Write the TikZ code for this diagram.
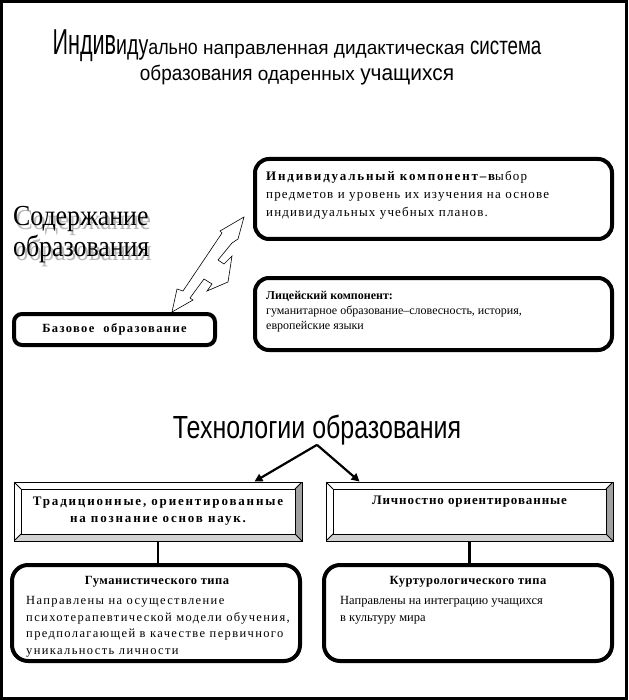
\documentclass[tikz,border=0pt]{standalone}
\usepackage{fontspec}
\usepackage{graphicx}
\setmainfont{Liberation Serif}
\newfontfamily\titlesans{Liberation Sans}
\newfontfamily\artserif{Liberation Serif}
\usetikzlibrary{arrows.meta}
\definecolor{bevelgrey}{RGB}{160,160,160}
\definecolor{bevellight}{RGB}{210,210,210}
\definecolor{shadowgrey}{RGB}{185,185,185}
\newcommand\wart[3]{\scalebox{#2}[1]{\fontsize{#1}{#1}\selectfont #3}}
\newcommand\spaced[1]{\addfontfeatures{LetterSpace=#1}}
\newcommand\bevelframe{%
  \coordinate (bsw) at (path picture bounding box.south west);
  \coordinate (bne) at (path picture bounding box.north east);
  \fill[bevelgrey] (bne) -- (bsw -| bne) -- ([shift={(-7pt,7pt)}]bsw -| bne)
    -- ([shift={(-7pt,-7pt)}]bne) -- cycle;
  \fill[bevellight] (bsw) -- (bsw -| bne) -- ([shift={(-7pt,7pt)}]bsw -| bne)
    -- ([shift={(7pt,7pt)}]bsw) -- cycle;
  \draw[line width=0.8pt] ([shift={(7pt,7pt)}]bsw) rectangle ([shift={(-7pt,-7pt)}]bne);
  \draw[line width=0.8pt] (bsw) -- ([shift={(7pt,7pt)}]bsw)
    (bne) -- ([shift={(-7pt,-7pt)}]bne)
    (bsw |- bne) -- ([shift={(7pt,-7pt)}]bsw |- bne)
    (bsw -| bne) -- ([shift={(-7pt,7pt)}]bsw -| bne);
}
\tikzset{
  roundbox/.style={draw, line width=4pt, rounded corners=14pt, inner sep=0pt},
  bevelbox/.style={draw, line width=0.9pt, minimum width=288pt, minimum height=59pt,
    inner sep=0pt, align=center, path picture={\bevelframe}},
  boxtext/.style={anchor=north west, inner sep=0pt, align=left},
  wordart/.style={anchor=base west, inner sep=0pt, font=\artserif},
  link/.style={line width=2.5pt},
  techarrow/.style={line width=2.2pt, -{Triangle[length=8pt,width=8pt]}},
}

\begin{document}
\begin{tikzpicture}[x=1pt, y=-1pt]
  \useasboundingbox (0,0) rectangle (628,700);
  \fill[white] (0,0) rectangle (628,700);
  \draw[line width=3pt] (1.5,1.5) rectangle (626.5,698.5);
  % title
  \node[anchor=base, inner sep=0pt, font=\titlesans\fontsize{19}{19}\selectfont] (title1) at (297,55)
    {\wart{36}{0.6}{Индив}\wart{28}{0.7}{иду}\wart{21}{0.85}{ально} \wart{19}{1}{направленная дидактическая} \wart{25}{0.75}{система}};
  \node[anchor=base, inner sep=0pt, font=\titlesans\fontsize{19}{19}\selectfont] (title2) at (297,81)
    {\wart{21}{0.9}{образования} \wart{19}{1}{одаренных} \wart{22}{0.95}{учащихся}};
  % content of education
  \node[wordart, text=shadowgrey] (contshade1) at (15.5,229.5) {\wart{29}{0.89}{Содержание}};
  \node[wordart] (cont1) at (13,226) {\wart{29}{0.89}{Содержание}};
  \node[wordart, text=shadowgrey] (contshade2) at (15.5,260.5) {\wart{30}{0.86}{образования}};
  \node[wordart] (cont2) at (13,257) {\wart{30}{0.86}{образования}};
  % boxes, upper part
  \node[roundbox, minimum width=357pt, minimum height=80pt] (ind) at (433.5,199) {};
  \node[boxtext, font=\fontsize{13}{18}\selectfont\spaced{9}] (indtext) at (266,171)
    {{\bfseries\spaced{14}Индивидуальный компонент–в}ыбор\\ предметов и уровень их изучения на основе\\ индивидуальных учебных планов.};
  \node[roundbox, minimum width=357pt, minimum height=72pt] (lyc) at (433.5,314) {};
  \node[boxtext, font=\fontsize{12}{15}\selectfont] (lyctext) at (266,291)
    {\textbf{Лицейский компонент:}\\ гуманитарное образование–словесность, история,\\ европейские языки};
  \node[roundbox, rounded corners=8pt, minimum width=201pt, minimum height=31pt,
    font=\fontsize{12.5}{14}\selectfont\bfseries\spaced{11}] (base) at (114.5,329.5) {Базовое\ \ образование};
  % lightning double arrow
  \draw[line width=0.6pt, fill=white] (172,312) -- (177,289) -- (183,291) -- (222,233) -- (220,231)
    -- (244,217) -- (238,239) -- (232,243) -- (218,260) -- (224,264) -- (232,256) -- (228,282)
    -- (207,291) -- (212,284) -- (204,279) -- (190,298) -- (193,300) -- cycle;
  % technologies
  \node[anchor=base, inner sep=0pt, font=\titlesans] (tech) at (317,438) {\wart{32}{0.78}{Технологии образования}};
  \node[bevelbox, font=\fontsize{13}{17}\selectfont\bfseries\spaced{14}] (trad) at (158,511.5)
    {Традиционные, ориентированные\\ на познание основ наук.};
  \node[bevelbox, minimum width=287pt, font=\fontsize{13}{17}\selectfont\bfseries\spaced{7}] (pers) at (469.5,511.5)
    {Личностно ориентированные\\[6pt] \mbox{}};
  \draw[techarrow] (tech.south) -- ([xshift=-48pt]trad.north east);
  \draw[techarrow] (tech.south) -- ([xshift=34pt]pers.north west);
  % lower boxes
  \node[roundbox, rounded corners=16pt, minimum width=288pt, minimum height=96pt] (hum) at (156,613) {};
  \node[roundbox, rounded corners=16pt, minimum width=288pt, minimum height=96pt] (cult) at (468,613) {};
  \draw[link] (trad.south) -- (trad.south |- hum.north);
  \draw[link] (pers.south) -- (pers.south |- cult.north);
  \node[font=\fontsize{12.5}{15}\selectfont\bfseries\spaced{4}] (humtitle) at (157,582) {Гуманистического типа};
  \node[boxtext, font=\fontsize{12.5}{16.7}\selectfont\spaced{11}] (humtext) at (26,596)
    {Направлены на осуществление\\ психотерапевтической модели обучения,\\ предполагающей в качестве первичного\\ уникальность личности};
  \node[font=\fontsize{12.5}{15}\selectfont\bfseries\spaced{4}] (culttitle) at (468,582) {Куртурологического типа};
  \node[boxtext, font=\fontsize{12.5}{16.7}\selectfont] (culttext) at (340,596)
    {Направлены на интеграцию учащихся\\ в культуру мира};
\end{tikzpicture}
\end{document}
